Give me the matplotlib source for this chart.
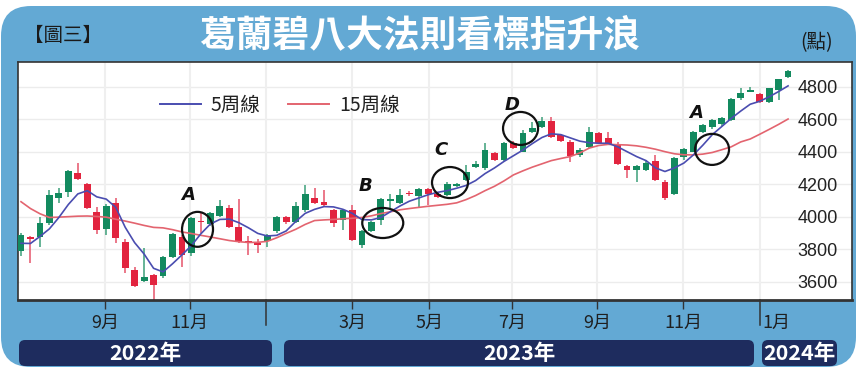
import matplotlib
matplotlib.use("Agg")
import matplotlib.pyplot as plt
from matplotlib.patches import FancyBboxPatch, Ellipse, Rectangle
from matplotlib.lines import Line2D
import matplotlib.transforms as mtrans
import numpy as np

plt.rcParams['font.family'] = ['Noto Sans CJK TC', 'DejaVu Sans']

# ---------------- data (weekly candles) ----------------
opens = [3790, 3873, 3877, 3963, 4113, 4154, 4271, 4199, 4031, 3924,
         4082, 3846, 3672, 3604, 3641, 3635, 3754, 3877, 3775, 3975,
         3955, 4004, 4052, 3935, 3849, 3840, 3852, 3910, 3996, 3969,
         4041, 4117, 4092, 4043, 3981, 4043, 3826, 3914, 3980, 4098,
         4082, 4144, 4127, 4169, 4138, 4133, 4191, 4226, 4308, 4298,
         4390, 4349, 4455, 4400, 4523, 4554, 4589, 4500, 4462, 4380,
         4431, 4513, 4486, 4447, 4312, 4287, 4287, 4342, 4215, 4140,
         4365, 4400, 4519, 4554, 4568, 4595, 4729, 4769, 4753, 4708,
         4780, 4858]
highs = [3900, 3880, 3998, 4164, 4175, 4290, 4332, 4210, 4062, 4075,
         4113, 3860, 3690, 3806, 3650, 3760, 3900, 3890, 4000, 4021,
         4030, 4103, 4070, 4107, 3881, 3860, 3895, 4005, 4005, 4092,
         4195, 4175, 4164, 4050, 4045, 4072, 3920, 3975, 4115, 4140,
         4169, 4160, 4175, 4175, 4154, 4215, 4210, 4318, 4340, 4452,
         4400, 4460, 4465, 4533, 4585, 4615, 4615, 4510, 4470, 4420,
         4554, 4520, 4523, 4460, 4320, 4320, 4350, 4380, 4225, 4365,
         4420, 4525, 4570, 4600, 4615, 4730, 4790, 4800, 4760, 4795,
         4850, 4905]
lows = [3760, 3717, 3815, 3949, 4082, 4123, 4225, 4050, 3892, 3887,
        3836, 3652, 3565, 3595, 3487, 3620, 3745, 3692, 3760, 3902,
        3945, 3995, 3930, 3840, 3764, 3775, 3815, 3900, 3955, 3960,
        4030, 4080, 4065, 3938, 3918, 3850, 3806, 3905, 3949, 4052,
        4075, 4130, 4062, 4072, 4115, 4125, 4185, 4220, 4300, 4290,
        4340, 4340, 4415, 4395, 4515, 4548, 4485, 4460, 4339, 4370,
        4425, 4445, 4440, 4320, 4236, 4215, 4280, 4220, 4105, 4135,
        4350, 4395, 4512, 4540, 4560, 4590, 4720, 4765, 4700, 4700,
        4718, 4855]
closes = [3890, 3862, 3959, 4133, 4148, 4281, 4230, 4055, 3918, 4068,
          3867, 3686, 3575, 3631, 3580, 3750, 3894, 3764, 3990, 3967,
          4021, 4066, 3935, 3846, 3836, 3828, 3887, 3996, 3967, 4068,
          4137, 4086, 4072, 3961, 4041, 3857, 3914, 3969, 4107, 4107,
          4133, 4140, 4169, 4138, 4123, 4199, 4203, 4277, 4326, 4410,
          4349, 4452, 4421, 4513, 4544, 4589, 4492, 4468, 4374, 4410,
          4523, 4455, 4445, 4324, 4287, 4312, 4328, 4226, 4113, 4359,
          4414, 4520, 4564, 4594, 4609, 4724, 4759, 4780, 4708, 4790,
          4847, 4898]
ma5 = [3836, 3835, 3878, 3925, 3995, 4075, 4140, 4160, 4122, 4108,
       4058, 3935, 3840, 3770, 3682, 3660, 3710, 3765, 3822, 3895,
       3955, 3983, 3985, 3963, 3932, 3897, 3881, 3885, 3912, 3970,
       4020, 4045, 4062, 4060, 4045, 4020, 3982, 3980, 3995, 4030,
       4065, 4095, 4115, 4135, 4150, 4160, 4175, 4192, 4222, 4265,
       4300, 4340, 4375, 4410, 4450, 4487, 4510, 4505, 4485, 4465,
       4455, 4452, 4452, 4430, 4400, 4370, 4345, 4300, 4278, 4300,
       4330, 4380, 4440, 4505, 4555, 4605, 4650, 4692, 4710, 4738,
       4770, 4805]
ma15 = [4092, 4050, 4018, 3995, 3997, 4000, 4003, 4004, 4001, 3997,
        3984, 3973, 3960, 3946, 3934, 3931, 3920, 3906, 3896, 3885,
        3875, 3864, 3853, 3846, 3841, 3842, 3848, 3870, 3897, 3922,
        3952, 3976, 3980, 3983, 3987, 3990, 3995, 4005, 4019, 4030,
        4042, 4050, 4057, 4064, 4070, 4076, 4085, 4105, 4130, 4160,
        4187, 4220, 4257, 4282, 4305, 4325, 4345, 4358, 4370, 4392,
        4422, 4438, 4445, 4443, 4441, 4436, 4427, 4415, 4400, 4387,
        4381, 4380, 4385, 4395, 4412, 4430, 4460, 4478, 4507, 4537,
        4568, 4601]

month_pos = [8.9, 17.8, 35.0, 43.1, 51.9, 60.8, 69.9]
month_labels = ['9月', '11月', '3月', '5月', '7月', '9月', '11月']
year_breaks = [25.9, 78.0]
jan_pos = 79.8
year_labels = ['2022年', '2023年', '2024年']
y_ticks = [3600, 3800, 4000, 4200, 4400, 4600, 4800]
legend_labels = ['5周線', '15周線']

title = '葛蘭碧八大法則看標指升浪'

# ---------------- colours ----------------
FRAME = '#63a9d4'
NAVY = '#1e2c5e'
UP = '#138a5f'
DOWN = '#e2243f'
MA5C = '#4a4db0'
MA15C = '#e3646f'

W, H = 857, 369
fig = plt.figure(figsize=(W / 100, H / 100), dpi=100)
fig.patch.set_facecolor('white')

bg = fig.add_axes([0, 0, 1, 1])
bg.set_xlim(0, W)
bg.set_ylim(H, 0)
bg.axis('off')

# outer blue frame
bg.add_patch(FancyBboxPatch((1, 6), W - 2, H - 8,
                            boxstyle='round,pad=0,rounding_size=30',
                            facecolor=FRAME, edgecolor='none'))
# title texts
bg.text(24, 35, '【圖三】', ha='left', va='center', fontsize=14,
        color='#1a1a1a')
bg.text(420, 36, title, ha='center', va='center', fontsize=26.5,
        fontweight='bold', color='white')
bg.text(817, 43, '(點)', ha='center', va='center', fontsize=14,
        color='#1a1a1a')

# year bars
year_boxes = [(19, 253), (284, 470), (762, 75)]
for (x0, w), lab in zip(year_boxes, year_labels):
    bg.add_patch(FancyBboxPatch((x0, 340), w, 26,
                                boxstyle='round,pad=0,rounding_size=6',
                                facecolor=NAVY, edgecolor='none'))
    bg.text(x0 + w / 2, 353.5, lab, ha='center', va='center', fontsize=15.5,
            fontweight='bold', color='white')

# ---------------- main axes ----------------
ax = fig.add_axes([18 / W, 1 - 300 / H, (852 - 18) / W, (300 - 62) / H])
ax.set_facecolor('white')
ax.set_xlim(-0.317, 87.75)
ax.set_ylim(3487, 4952)

for yv in y_ticks:
    ax.axhline(yv, color='#ececec', lw=1, zorder=0)
for xv in month_pos + year_breaks:
    ax.axvline(xv, color='#efefef', lw=1.5, zorder=0)

x = np.arange(len(opens))
o = np.array(opens, float)
c = np.array(closes, float)
hi = np.array(highs, float)
lo = np.array(lows, float)
up = c >= o
cols = np.where(up, UP, DOWN)
wick_cols = np.where(up, '#3c9f79', '#e5536a')

ax.vlines(x, lo, hi, colors=wick_cols, lw=1.1, zorder=2)
body_h = np.maximum(np.abs(c - o), 8)
ax.bar(x, body_h, bottom=np.minimum(o, c), width=0.72, color=cols,
       edgecolor='none', zorder=3)

ax.plot(x, ma15, color=MA15C, lw=1.2, zorder=4)
ax.plot(x, ma5, color=MA5C, lw=1.2, zorder=4)

# annotation circles and letters
marks = [('A', 18.64, 3922, 3.27, 215, 17.6, 4134),
         ('B', 38.2, 3961, 4.33, 185, 36.4, 4189),
         ('C', 45.3, 4210, 3.8, 191, 44.35, 4410),
         ('D', 52.75, 4543, 3.7, 203, 51.85, 4690),
         ('A', 72.97, 4414, 3.59, 191, 71.3, 4641)]
for lab, ex, ey, ew, eh, tx, ty in marks:
    ax.add_patch(Ellipse((ex, ey), ew, eh, fill=False, edgecolor='#111111',
                         lw=1.6, zorder=6))
    ax.text(tx, ty, lab, ha='center', va='center', fontsize=13,
            fontweight='bold', fontstyle='italic', color='#111111',
            family=['DejaVu Sans'], zorder=6)

# legend
handles = [Line2D([], [], color=MA5C, lw=1.4), Line2D([], [], color=MA15C, lw=1.4)]
leg = ax.legend(handles, legend_labels, loc='center left',
                bbox_to_anchor=(0.170, 0.819), ncol=2, frameon=False,
                fontsize=14, handlelength=2.1, handletextpad=0.5,
                columnspacing=1.45, borderpad=0, borderaxespad=0)
for t in leg.get_texts():
    t.set_color('#222222')

# y axis labels inside on right
ax.yaxis.tick_right()
ax.set_yticks(y_ticks)
ax.set_yticklabels([str(v) for v in y_ticks], family='Liberation Sans',
                   fontsize=13, color='#222222')
ax.tick_params(axis='y', length=0, pad=-39)

# x axis ticks
ax.set_xticks(month_pos)
ax.set_xticklabels(month_labels, fontsize=13, color='#1f1f1f')
ax.tick_params(axis='x', direction='out', length=6.5, width=1,
               color='#333333', pad=3.5)
trans = mtrans.blended_transform_factory(ax.transData, ax.transAxes)
for xb in year_breaks:
    ax.plot([xb, xb], [0, -0.105], transform=trans, clip_on=False,
            color='#333333', lw=1.1)
ax.text(jan_pos, -0.098, '1月', transform=trans, ha='center', va='center',
        fontsize=13, color='#1f1f1f')

for side in ['top', 'left', 'right']:
    ax.spines[side].set_color('#333333')
    ax.spines[side].set_linewidth(1.2)
ax.spines['bottom'].set_color('#333333')
ax.spines['bottom'].set_linewidth(2)

fig.savefig('out.png', dpi=100, facecolor='white')
